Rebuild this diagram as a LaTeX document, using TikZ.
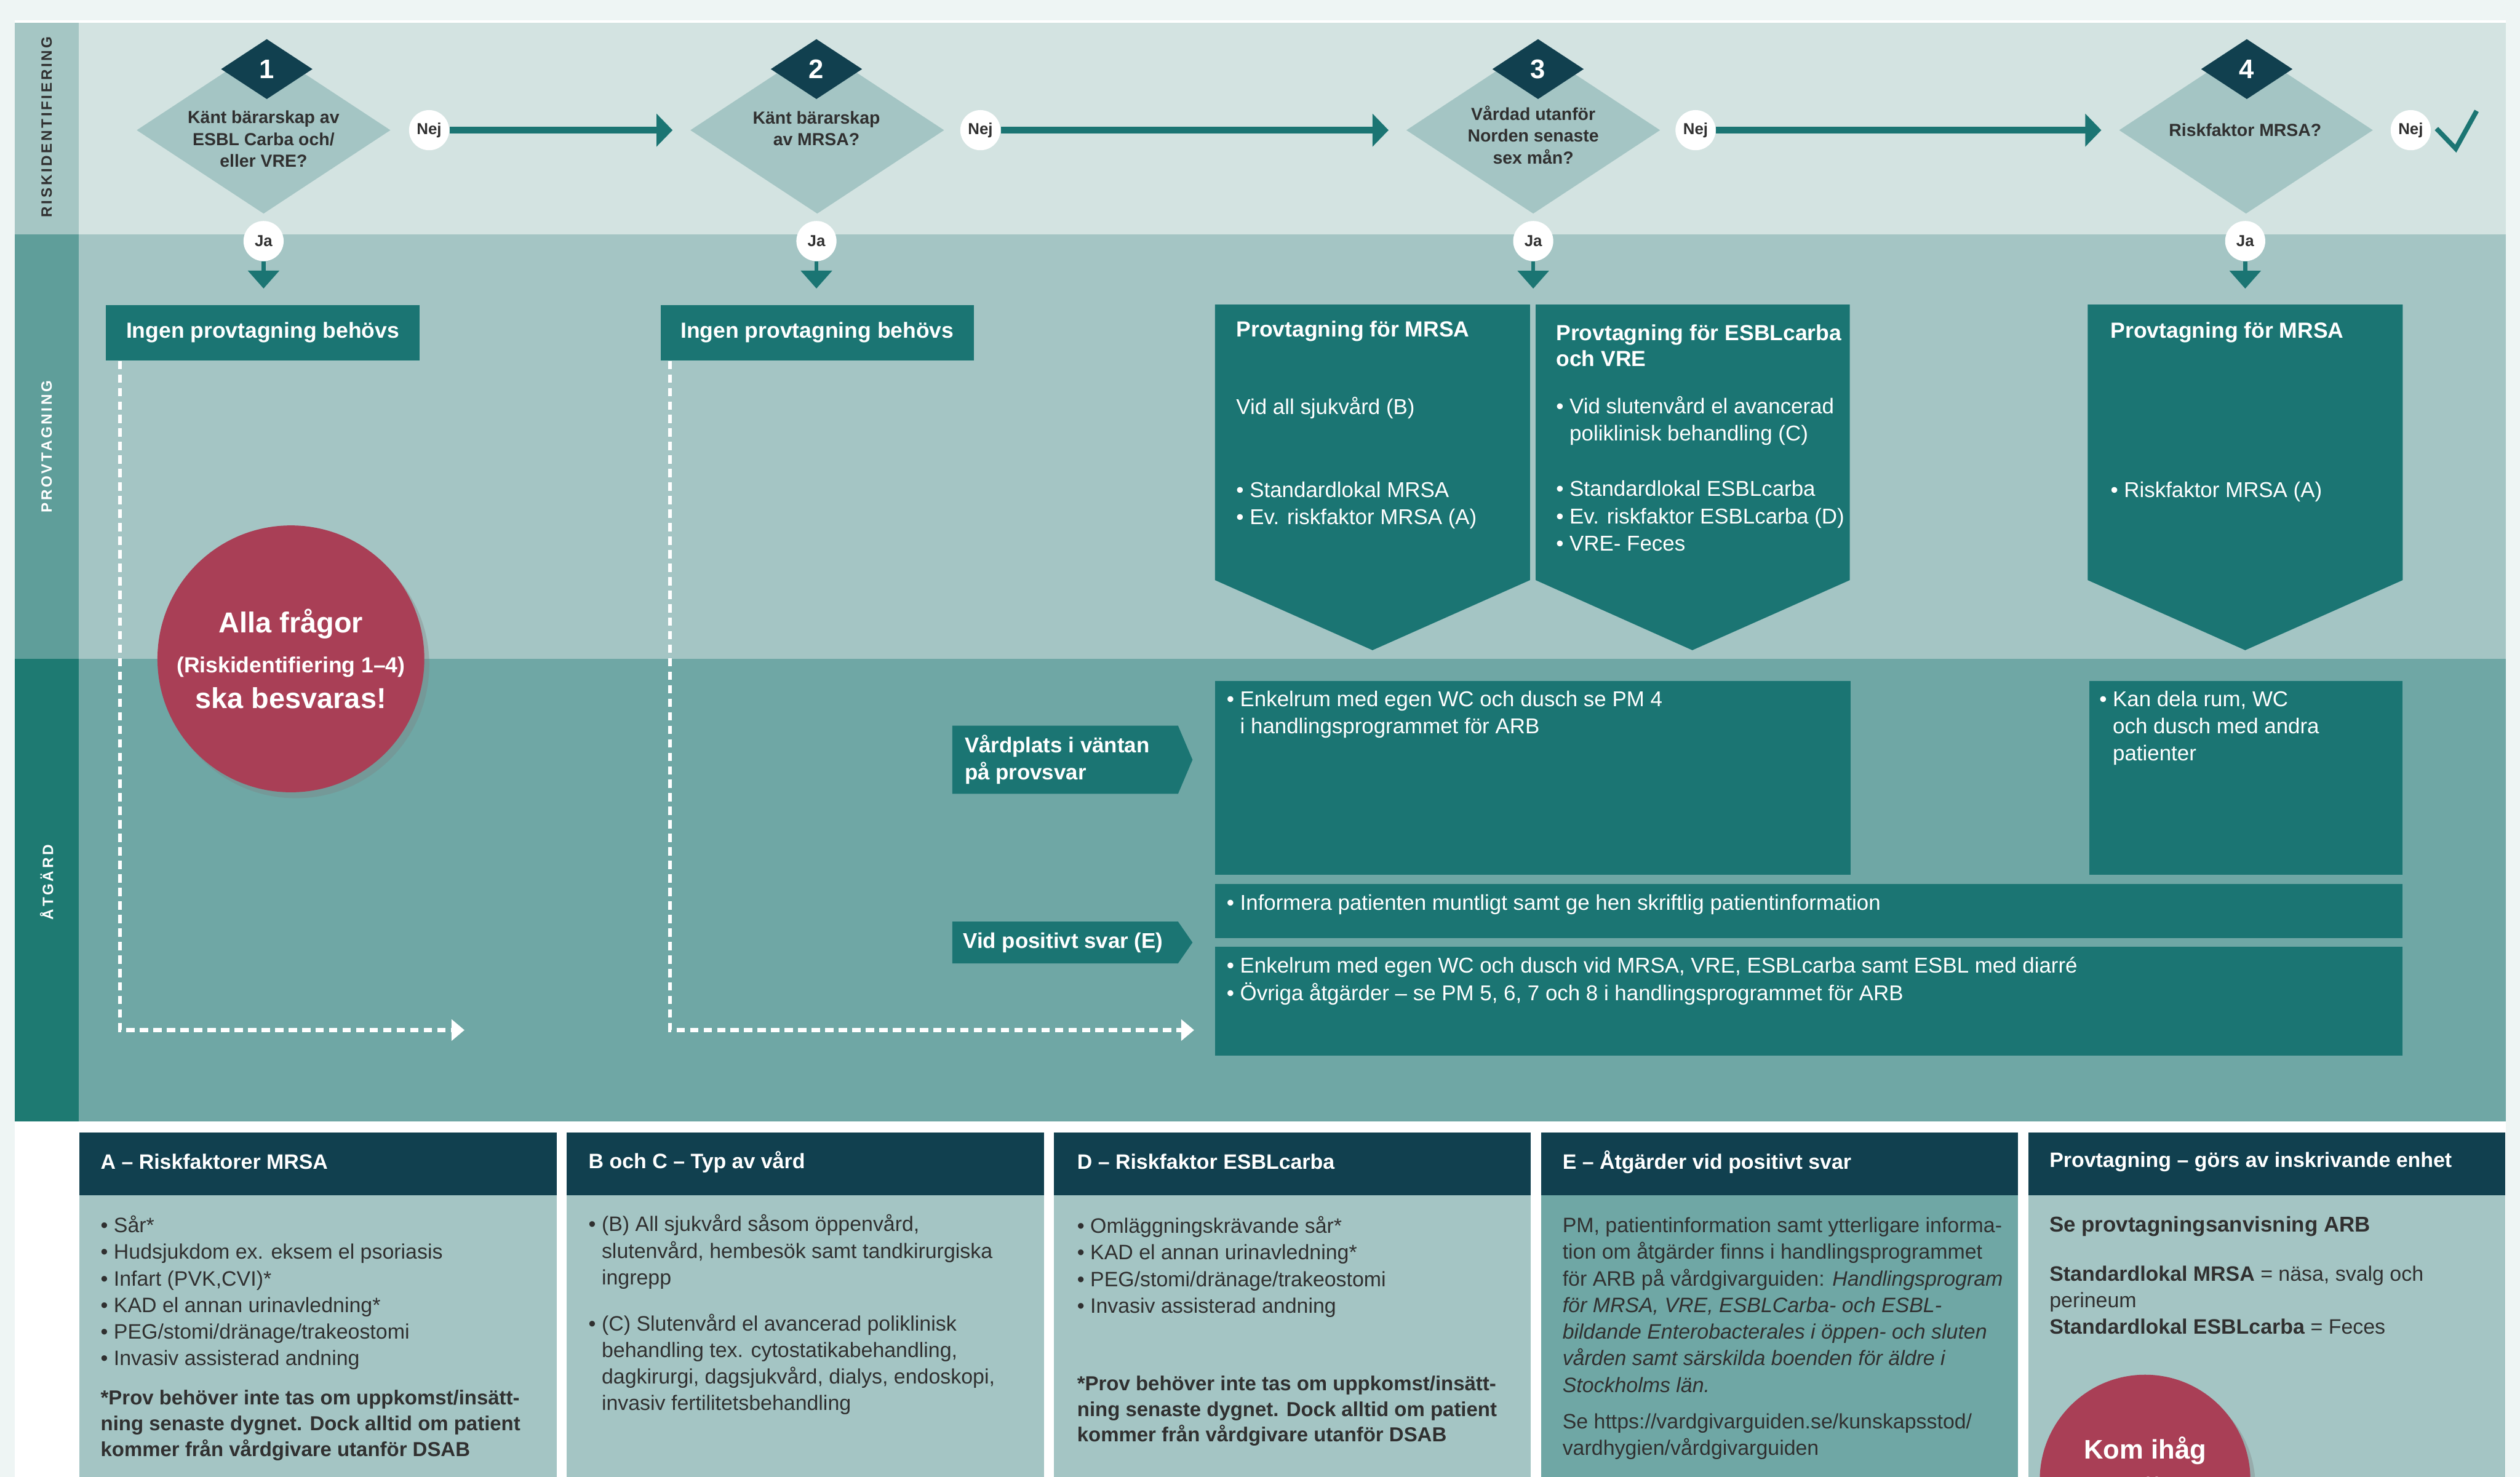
\documentclass[tikz,border=0pt]{standalone}
\usepackage{fontspec}
\setmainfont{Liberation Sans}
\usetikzlibrary{positioning,shapes.geometric,arrows.meta,calc,shadows}

\definecolor{bgmint}{HTML}{EEF5F4}
\definecolor{rowone}{HTML}{D3E3E1}
\definecolor{rowtwo}{HTML}{A4C5C4}
\definecolor{rowthree}{HTML}{6FA7A5}
\definecolor{labone}{HTML}{A5C6C4}
\definecolor{labtwo}{HTML}{5F9E9A}
\definecolor{labthree}{HTML}{1E7A72}
\definecolor{darkblue}{HTML}{11404F}
\definecolor{boxteal}{HTML}{1B7573}
\definecolor{alarm}{HTML}{A93F56}
\definecolor{txt}{HTML}{303030}

\tikzset{
    lanelabel/.style={rotate=90, inner sep=0pt, text=white, font=\fontsize{7.5}{9}\selectfont\bfseries\addfontfeatures{LetterSpace=15}},
    quest/.style={diamond, fill=rowtwo, inner sep=0pt, minimum width=127.8pt, minimum height=84.1pt},
    qnum/.style={diamond, fill=darkblue, inner sep=0pt, minimum width=46.1pt, minimum height=30.3pt, text=white, font=\fontsize{13.5}{14}\selectfont\bfseries},
    qtext/.style={align=center, inner sep=0pt, text=txt, font=\fontsize{8.8}{11}\selectfont\bfseries},
    answer/.style={circle, fill=white, inner sep=0pt, minimum size=20.2pt, text=txt, font=\fontsize{8}{9}\selectfont\bfseries},
    nejarrow/.style={draw=boxteal, line width=3.6pt, -{Triangle[length=8.1pt,width=16.2pt]}, shorten >=8.7pt},
    jaarrow/.style={draw=boxteal, line width=2pt, -{Triangle[length=9pt,width=15.4pt]}, shorten >=8pt},
    nobox/.style={fill=boxteal, text=white, inner sep=0pt, minimum width=157.8pt, minimum height=28pt, font=\fontsize{11}{13}\selectfont\bfseries},
    boxtitle/.style={anchor=west, align=left, inner sep=0pt, text=white, font=\fontsize{11}{13.2}\selectfont\bfseries},
    boxtext/.style={anchor=west, align=left, inner sep=0pt, text=white, font=\fontsize{10.8}{13.7}\selectfont},
    tagtext/.style={anchor=west, align=left, inner sep=0pt, text=white, font=\fontsize{10.8}{13.7}\selectfont\bfseries},
    dashflow/.style={draw=white, line width=1.9pt, dash pattern=on 4.2pt off 2.6pt, -{Triangle[length=6.5pt,width=10.5pt]}},
    alert/.style={circle, fill=alarm, text=white, align=center, inner sep=0pt, font=\fontsize{14.5}{18}\selectfont\bfseries, drop shadow={shadow xshift=2.5pt, shadow yshift=-3pt, opacity=.35}},
    headtext/.style={anchor=west, inner sep=0pt, text=white, font=\fontsize{10.5}{13}\selectfont\bfseries},
    notetext/.style={anchor=west, align=left, inner sep=0pt, text=txt, font=\fontsize{10.5}{13.4}\selectfont},
    notebold/.style={notetext, font=\fontsize{10.2}{12.9}\selectfont\bfseries},
}

\begin{document}
\begin{tikzpicture}[x=0.28425mm, y=-0.28425mm]
        \useasboundingbox (0,0) rectangle (1568,919);
        \clip (0,0) rectangle (1568,919);

        % Background and the three lanes
        \fill[bgmint] (0,0) rectangle (1568,919);
        \fill[white] (9,12.5) rectangle (1559,919);
        \fill[rowone] (9,14) rectangle (1559,146);
        \fill[rowtwo] (9,146) rectangle (1559,410);
        \fill[rowthree] (9,410) rectangle (1559,698);
        \fill[labone] (9,14) rectangle (49,146);
        \fill[labtwo] (9,146) rectangle (49,410);
        \fill[labthree] (9,410) rectangle (49,698);
        \node[lanelabel, text=txt] (lrisk) at (29,79) {RISKIDENTIFIERING};
        \node[lanelabel] (lprov) at (29,278) {PROVTAGNING};
        \node[lanelabel] (latg) at (29,549) {ÅTGÄRD};

        % Questions 1-4
        \node[quest] (d1) at (164,81) {};
        \node[quest] (d2) at (508.5,81) {};
        \node[quest] (d3) at (954,81) {};
        \node[quest] (d4) at (1397.5,81) {};
        \node[qnum] (k1) at (166,43) {1};
        \node[qnum] (k2) at (508,43) {2};
        \node[qnum] (k3) at (957,43) {3};
        \node[qnum] (k4) at (1398,43) {4};
        \node[qtext] (t1) at (164,86.5) {Känt bärarskap av\\ESBL Carba och/\\eller VRE?};
        \node[qtext] (t2) at (508,80) {Känt bärarskap\\av MRSA?};
        \node[qtext] (t3) at (954,84) {Vårdad utanför\\Norden senaste\\sex mån?};
        \node[qtext] (t4) at (1397,81) {Riskfaktor MRSA?};

        % Nej / Ja
        \node[answer] (n1) at (267,81) {Nej};
        \node[answer] (n2) at (610,81) {Nej};
        \node[answer] (n3) at (1055,81) {Nej};
        \node[answer] (n4) at (1500,81) {Nej};
        \node[answer] (j1) at (164,150) {Ja};
        \node[answer] (j2) at (508,150) {Ja};
        \node[answer] (j3) at (954,150) {Ja};
        \node[answer] (j4) at (1397,150) {Ja};
        \draw[nejarrow] (n1) -- (d2);
        \draw[nejarrow] (n2) -- (d3);
        \draw[nejarrow] (n3) -- (d4);
        \draw[boxteal, line width=2.4pt] (1516,80) -- (1528,92.5) -- (1541,69); % klar

        % Provtagning
        \node[nobox] (b1) at (163.5,207) {Ingen provtagning behövs};
        \node[nobox] (b2) at (508.5,207) {Ingen provtagning behövs};
        \coordinate (p3) at (954,189.5);
        \coordinate (p4) at (1397,189.5);
        \draw[jaarrow] (j1) -- (j1 |- b1.north);
        \draw[jaarrow] (j2) -- (j2 |- b2.north);
        \draw[jaarrow] (j3) -- (p3);
        \draw[jaarrow] (j4) -- (p4);

        \fill[boxteal] (756,189.5) -- (952,189.5) -- (952,361) -- (854,404.6) -- (756,361) -- cycle;
        \fill[boxteal] (955.5,189.5) -- (1151,189.5) -- (1151,361) -- (1053,404.6) -- (955.5,361) -- cycle;
        \fill[boxteal] (1299,189.5) -- (1495,189.5) -- (1495,361) -- (1397,404.6) -- (1299,361) -- cycle;
        \node[boxtitle] (pm1) at (769,206) {Provtagning för MRSA};
        \node[boxtext] (pm2) at (769,254) {Vid all sjukvård (B)};
        \node[boxtext] (pm3) at (769,314.5) {• Standardlokal MRSA\\• Ev. riskfaktor MRSA (A)};
        \node[boxtitle] (pe1) at (968,215) {Provtagning för ESBLcarba\\och VRE};
        \node[boxtext] (pe2) at (968,262) {• Vid slutenvård el avancerad\\\phantom{• }poliklinisk behandling (C)};
        \node[boxtext] (pe3) at (968,321) {• Standardlokal ESBLcarba\\• Ev. riskfaktor ESBLcarba (D)\\• VRE- Feces};
        \node[boxtitle] (pr1) at (1313,207) {Provtagning för MRSA};
        \node[boxtext] (pr2) at (1313,306) {• Riskfaktor MRSA (A)};

        % Reminder
        \node[alert, minimum size=134.3pt] (alla) at (181,410) {Alla frågor\\[2pt]{\fontsize{11}{13}\selectfont (Riskidentifiering 1–4)}\\ska besvaras!};

        % Dashed paths when no sample is needed
        \coordinate (e1) at (289,641);
        \coordinate (e2) at (743,641);
        \draw[dashflow] ($(b1.south west)+(9,0)$) |- (e1);
        \draw[dashflow] ($(b2.south west)+(6.3,0)$) |- (e2);

        % Atgard
        \fill[boxteal] (592.5,451.6) -- (733,451.6) -- (742,472.8) -- (733,494) -- (592.5,494) -- cycle;
        \node[tagtext] (w1) at (600,472.8) {Vårdplats i väntan\\på provsvar};
        \fill[boxteal] (592.5,573.5) -- (733,573.5) -- (742,586.5) -- (733,599.5) -- (592.5,599.5) -- cycle;
        \node[tagtext] (w2) at (599,586.5) {Vid positivt svar (E)};

        \fill[boxteal] (756,423.6) rectangle (1151.5,544.4);
        \fill[boxteal] (1300,423.6) rectangle (1495,544.4);
        \fill[boxteal] (756,550) rectangle (1495,583.8);
        \fill[boxteal] (756,589) rectangle (1495,657);
        \node[boxtext] (a1) at (763,444.5) {• Enkelrum med egen WC och dusch se PM 4\\\phantom{• }i handlingsprogrammet för ARB};
        \node[boxtext] (a2) at (1306,453) {• Kan dela rum, WC\\\phantom{• }och dusch med andra\\\phantom{• }patienter};
        \node[boxtext] (a3) at (763,563) {• Informera patienten muntligt samt ge hen skriftlig patientinformation};
        \node[boxtext] (a4) at (763,610.5) {• Enkelrum med egen WC och dusch vid MRSA, VRE, ESBLcarba samt ESBL med diarré\\• Övriga åtgärder – se PM 5, 6, 7 och 8 i handlingsprogrammet för ARB};

        % Footnote boxes A-E
        \fill[darkblue] (49.4,704.6) rectangle (346.4,743.7);
        \fill[darkblue] (352.6,704.6) rectangle (649.5,743.7);
        \fill[darkblue] (655.8,704.6) rectangle (952.6,743.7);
        \fill[darkblue] (959,704.6) rectangle (1255.6,743.7);
        \fill[darkblue] (1262,704.6) rectangle (1558.6,743.7);
        \fill[rowtwo] (49.4,743.7) rectangle (346.4,919);
        \fill[rowtwo] (352.6,743.7) rectangle (649.5,919);
        \fill[rowtwo] (655.8,743.7) rectangle (952.6,919);
        \fill[rowthree] (959,743.7) rectangle (1255.6,919);
        \fill[rowtwo] (1262,743.7) rectangle (1558.6,919);

        \node[headtext] (ha) at (62.4,723) {A – Riskfaktorer MRSA};
        \node[headtext] (hb) at (366,723) {B och C – Typ av vård};
        \node[headtext] (hd) at (670,723) {D – Riskfaktor ESBLcarba};
        \node[headtext] (he) at (972,723) {E – Åtgärder vid positivt svar};
        \node[headtext] (hp) at (1275,723) {Provtagning – görs av inskrivande enhet};

        \node[notetext] (ta1) at (62.4,804.5) {• Sår*\\• Hudsjukdom ex. eksem el psoriasis\\• Infart (PVK,CVI)*\\• KAD el annan urinavledning*\\• PEG/stomi/dränage/trakeostomi\\• Invasiv assisterad andning};
        \node[notebold] (ta2) at (62.4,887) {*Prov behöver inte tas om uppkomst/insätt-\\ning senaste dygnet. Dock alltid om patient\\kommer från vårdgivare utanför DSAB};
        \node[notetext] (tb1) at (366,779) {• (B) All sjukvård såsom öppenvård,\\\phantom{• }slutenvård, hembesök samt tandkirurgiska\\\phantom{• }ingrepp};
        \node[notetext] (tb2) at (366,849) {• (C) Slutenvård el avancerad poliklinisk\\\phantom{• }behandling tex. cytostatikabehandling,\\\phantom{• }dagkirurgi, dagsjukvård, dialys, endoskopi,\\\phantom{• }invasiv fertilitetsbehandling};
        \node[notetext] (td1) at (670,788.3) {• Omläggningskrävande sår*\\• KAD el annan urinavledning*\\• PEG/stomi/dränage/trakeostomi\\• Invasiv assisterad andning};
        \node[notebold] (td2) at (670,878) {*Prov behöver inte tas om uppkomst/insätt-\\ning senaste dygnet. Dock alltid om patient\\kommer från vårdgivare utanför DSAB};
        \node[notetext] (te1) at (972,812) {PM, patientinformation samt ytterligare informa-\\tion om åtgärder finns i handlingsprogrammet\\för ARB på vårdgivarguiden: \textit{Handlingsprogram}\\\textit{för MRSA, VRE, ESBLCarba- och ESBL-}\\\textit{bildande Enterobacterales i öppen- och sluten}\\\textit{vården samt särskilda boenden för äldre i}\\\textit{Stockholms län.}};
        \node[notetext] (te2) at (972,894) {Se https://vardgivarguiden.se/kunskapsstod/\\vardhygien/vårdgivarguiden};
        \node[notetext, font=\fontsize{10.8}{13.4}\selectfont\bfseries] (tp1) at (1275,763) {Se provtagningsanvisning ARB};
        \node[notetext] (tp2) at (1275,809) {\textbf{Standardlokal MRSA} = näsa, svalg och\\perineum\\\textbf{Standardlokal ESBLcarba} = Feces};

        % Second reminder, cut by the page edge
        \node[alert, minimum size=106pt] (komihag) at (1334.7,921) {};
        \node[align=center, inner sep=0pt, text=white, font=\fontsize{13.5}{18}\selectfont\bfseries] (komtext) at (1334.7,912) {Kom ihåg\\att};
    \end{tikzpicture}
\end{document}
